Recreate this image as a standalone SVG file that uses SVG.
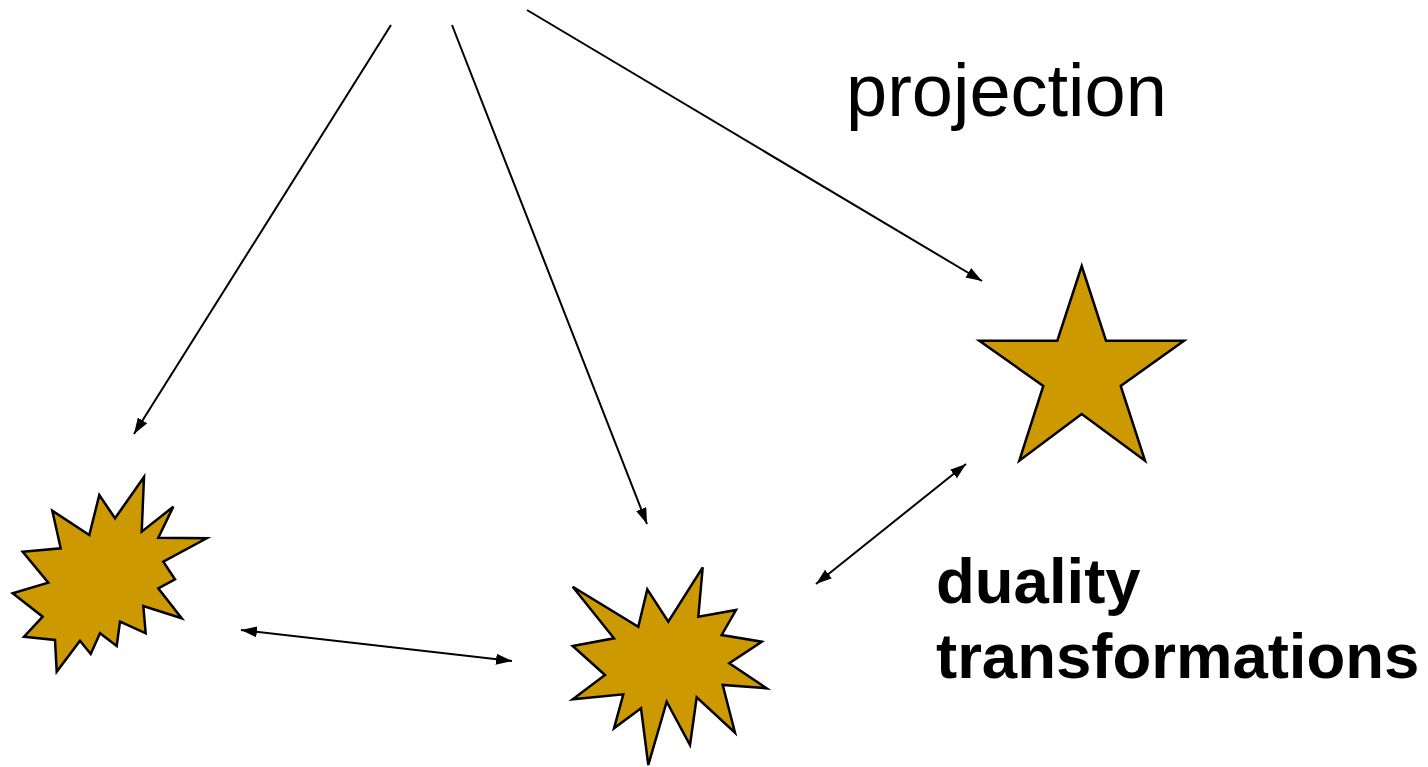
<svg xmlns="http://www.w3.org/2000/svg" width="1428" height="767" viewBox="0 0 1428 767">
<defs>
<marker id="ah" viewBox="0 0 16 11" refX="16" refY="5.5" markerWidth="16" markerHeight="11" markerUnits="userSpaceOnUse" orient="auto-start-reverse">
<path d="M0,0 L16,5.5 L0,11 Z" fill="#000"/>
</marker>
<style>
.shape{fill:#CC9900;stroke:#000;stroke-width:2.5;stroke-linejoin:miter}
.con{stroke:#000;stroke-width:2;fill:none}
.t{font-family:"Liberation Sans",Arial,sans-serif;fill:#000}
</style>
</defs>
<rect width="1428" height="767" fill="#fff"/>
<g id="burst1">
<polygon class="shape" points="144,477 141.7,531.7 173.3,506.7 158.3,537.7 206.7,538.3 163.3,561.7 175,579.3 158.3,588.3 181.7,618.3 143.3,606 145.7,633.3 120,621.7 116.7,646 100,633.3 90.7,654 80,640.7 56.7,671.7 55,640 24,636.7 42.7,616.7 12.7,593.3 48.3,582.7 22.7,551.7 60.7,548.3 52.3,510.7 89.3,535 99.3,495 115,518.3"/>
</g>
<g id="burst2">
<polygon class="shape" points="702.7,567.3 698.3,616.7 736,610 721.7,635 761.7,641.7 729.3,663.3 766.7,688.3 722.7,685 735,732.7 696.7,697.3 690,745 666.7,701.7 648.3,765 641,708.3 614,728.3 623.3,694.3 572.7,699.3 605,675 572.7,646 614,638.3 572.7,586.7 638.3,626.7 647.3,589.3 668.3,621.7"/>
</g>
<g id="star">
<polygon class="shape" points="1081.7,266 1106,340.7 1184,340.7 1120.7,386 1145,460.7 1081.7,414 1019.3,460.7 1043.3,386 979.3,340.7 1057.3,340.7"/>
</g>
<g id="connectors">
<line class="con" x1="391" y1="25" x2="134" y2="434" marker-end="url(#ah)"/>
<line class="con" x1="452" y1="25" x2="647" y2="524" marker-end="url(#ah)"/>
<line class="con" x1="527" y1="10" x2="982" y2="281" marker-end="url(#ah)"/>
<line class="con" x1="241" y1="630" x2="512" y2="661" marker-start="url(#ah)" marker-end="url(#ah)"/>
<line class="con" x1="816" y1="584" x2="966" y2="464" marker-start="url(#ah)" marker-end="url(#ah)"/>
</g>
<g id="labels">
<text class="t" x="846" y="116" font-size="74">projection</text>
<text class="t" x="936" y="603" font-size="63.5" font-weight="bold">duality</text>
<text class="t" x="936" y="678" font-size="63.5" font-weight="bold">transformations</text>
</g>
</svg>
